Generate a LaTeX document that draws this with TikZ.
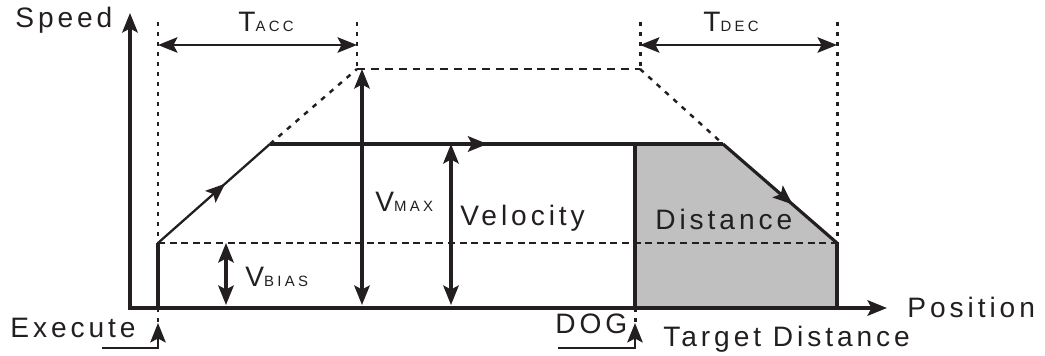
\documentclass[tikz,border=0pt]{standalone}
\usepackage{fontspec}
\setmainfont{Liberation Sans}[LetterSpace=14]
\usetikzlibrary{arrows.meta,decorations.markings}
\definecolor{ink}{HTML}{231F20}
\definecolor{areagray}{HTML}{C0C0C0}
\newcommand{\subtag}[1]{{\fontsize{8.5}{10}\selectfont\addfontfeature{LetterSpace=22}#1}}
\begin{document}
\begin{tikzpicture}[
    color=ink,
    every node/.style={font=\fontsize{16}{19}\selectfont, text=ink, inner sep=0pt, anchor=base west},
    tip/.style={-{Stealth[length=3.9mm,width=3.1mm,inset=0.8mm]}},
    dtip/.style={{Stealth[length=3.9mm,width=3.1mm,inset=0.8mm]}-{Stealth[length=3.9mm,width=3.1mm,inset=0.8mm]}},
    axis/.style={line width=1.8pt},
    prof/.style={line width=1.8pt},
    thinprof/.style={line width=1.3pt},
    dim/.style={line width=1.3pt},
    trig/.style={line width=1.2pt},
    vdot/.style={line width=1.7pt, dash pattern=on 2.3pt off 3.4pt},
    hdash/.style={line width=1.3pt, dash pattern=on 4pt off 2.6pt},
    topdash/.style={line width=1.3pt, dash pattern=on 4.5pt off 3.4pt},
    ddash/.style={line width=1.4pt, dash pattern=on 2.8pt off 3.6pt},
    midarr/.style={postaction={decorate}, decoration={markings,
        mark=at position #1 with {\arrow{Stealth[length=3.9mm,width=3.1mm,inset=0.8mm]}}}}
]
\useasboundingbox (-2.6,-0.94) rectangle (18.3,6.16);

% key points
\coordinate (O) at (0,0);
\coordinate (ytop) at (0,5.9);
\coordinate (xend) at (15.14,0);
\coordinate (extop) at (0.56,5.72);
\coordinate (exbias) at (0.56,1.30);
\coordinate (exbot) at (0.56,0);
\coordinate (acc) at (2.8,3.28);
\coordinate (peak) at (4.54,4.78);
\coordinate (peaktop) at (4.54,5.72);
\coordinate (decpeak) at (10.2,4.78);
\coordinate (decpeaktop) at (10.2,5.72);
\coordinate (dec) at (11.86,3.28);
\coordinate (dogtop) at (10.1,3.28);
\coordinate (dogbot) at (10.1,0);
\coordinate (stoptop) at (14.14,5.72);
\coordinate (stopb) at (14.14,1.30);
\coordinate (stopa) at (14.14,0);

% shaded distance
\fill[areagray] (dogbot) -- (dogtop) -- (dec) -- (stopb) -- (stopa) -- cycle;

% guide lines
\draw[vdot] (extop) -- (exbias);
\draw[vdot] (peaktop) -- (peak);
\draw[vdot] (decpeaktop) -- (decpeak);
\draw[vdot] (stoptop) -- (stopb);
\draw[topdash] (peak) -- (decpeak);
\draw[ddash] (acc) -- (peak);
\draw[ddash] (decpeak) -- (dec);
\draw[hdash] (exbias) -- (stopb);

% axes
\draw[axis,dtip] (ytop) -- (O) -- (xend);

% speed profile
\draw[thinprof, midarr=0.6] (exbias) -- (acc);
\draw[prof, midarr=0.48] (acc) -- (dec);
\draw[prof, midarr=0.61] (dec) -- (stopb);
\draw[prof] (exbias) -- (exbot);
\draw[prof] (dogtop) -- (dogbot);
\draw[prof] (stopb) -- (stopa);

% time spans
\coordinate (taccL) at (0.56,5.26);
\coordinate (taccR) at (4.54,5.26);
\coordinate (tdecL) at (10.2,5.26);
\coordinate (tdecR) at (14.14,5.26);
\draw[dim,dtip] (taccL) -- (taccR);
\draw[dim,dtip] (tdecL) -- (tdecR);

% speed levels
\coordinate (vmaxB) at (4.64,0.06);
\coordinate (vmaxT) at (4.64,4.78);
\coordinate (velB) at (6.42,0.06);
\coordinate (velT) at (6.42,3.28);
\coordinate (biasB) at (1.92,0.06);
\coordinate (biasT) at (1.92,1.30);
\draw[prof,dtip] (vmaxB) -- (vmaxT);
\draw[prof,dtip] (velB) -- (velT);
\draw[prof,dtip] (biasB) -- (biasT);

% triggers
\coordinate (exfoot) at (-0.56,-0.8);
\coordinate (exknee) at (0.56,-0.8);
\coordinate (exhead) at (0.56,-0.3);
\coordinate (dogfoot) at (8.56,-0.8);
\coordinate (dogknee) at (10.1,-0.8);
\coordinate (doghead) at (10.1,-0.3);
\draw[vdot] (exbot) -- (exhead);
\draw[vdot] (dogbot) -- (doghead);
\draw[trig,tip] (exfoot) -- (exknee) -- (exhead);
\draw[trig,tip] (dogfoot) -- (dogknee) -- (doghead);

% labels
\node (speed) at (-2.3,5.6) {Speed};
\node (tacc) at (2.16,5.52) {T\subtag{ACC}};
\node (tdec) at (11.46,5.52) {T\subtag{DEC}};
\node (vmax) at (4.9,1.92) {V\subtag{MAX}};
\node (velocity) at (6.6,1.64) {Velocity};
\node (distance) at (10.5,1.56) {Distance};
\node (vbias) at (2.3,0.42) {V\subtag{BIAS}};
\node (execute) at (-2.4,-0.58) {Execute};
\node (dog) at (8.5,-0.52) {DOG};
\node (target) at (10.66,-0.78) {Target Distance};
\node (position) at (15.54,-0.2) {Position};
\end{tikzpicture}
\end{document}
